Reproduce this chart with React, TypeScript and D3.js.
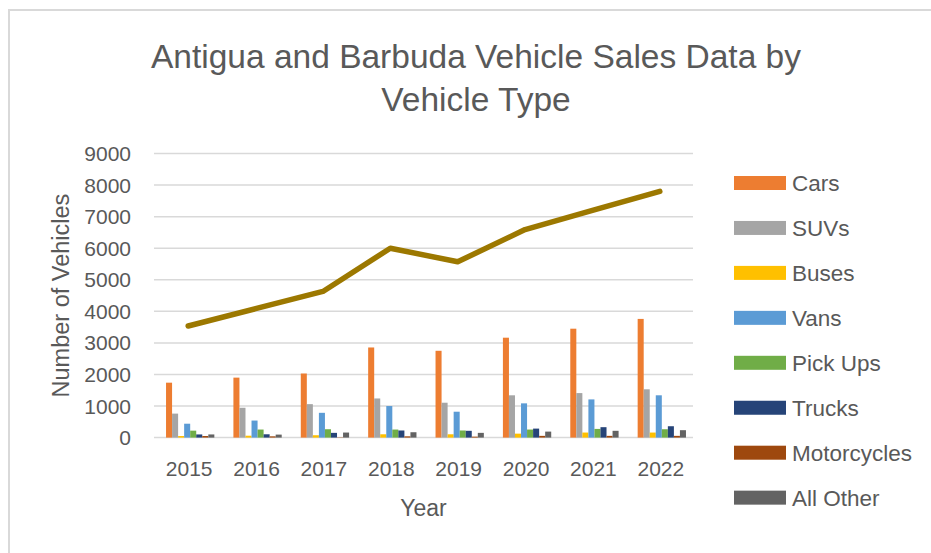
import React from "react";
import * as d3 from "d3";

const years = ["2015", "2016", "2017", "2018", "2019", "2020", "2021", "2022"];
const seriesNames = ["Cars", "SUVs", "Buses", "Vans", "Pick Ups", "Trucks", "Motorcycles", "All Other"];
const cars = [1740, 1900, 2030, 2855, 2750, 3165, 3450, 3760];
const suvs = [760, 945, 1060, 1240, 1105, 1340, 1410, 1530];
const buses = [50, 60, 75, 105, 105, 125, 160, 160];
const vans = [440, 540, 785, 1000, 820, 1085, 1210, 1340];
const pickUps = [220, 255, 265, 255, 225, 255, 275, 265];
const trucks = [100, 105, 150, 225, 215, 285, 330, 360];
const motorcycles = [50, 40, 10, 40, 30, 55, 55, 55];
const allOther = [100, 95, 160, 170, 150, 190, 215, 235];
const totals = [3535, 4085, 4630, 6000, 5570, 6590, 7195, 7800];
const yTicks = [0, 1000, 2000, 3000, 4000, 5000, 6000, 7000, 8000, 9000];
const colors = ["#ED7D31", "#A5A5A5", "#FFC000", "#5B9BD5", "#70AD47", "#264478", "#9E480E", "#636363"];
const seriesValues = [cars, suvs, buses, vans, pickUps, trucks, motorcycles, allOther];

const W = 931;
const H = 553;
const font = "'Liberation Sans', Arial, sans-serif";
const textColor = "#595959";

export default function App() {
  const plotL = 154, plotR = 693, plotT = 153.5, plotB = 437.6;
  const x0 = d3.scaleBand<string>().domain(years).range([plotL + 2.5, plotR + 2.5]).paddingInner(0.283).paddingOuter(0.1415);
  const x1 = d3.scaleBand<string>().domain(seriesNames).range([0, x0.bandwidth()]).padding(0);
  const y = d3.scaleLinear().domain([0, 9000]).range([plotB, plotT]);
  const line = d3
    .line<number>()
    .x((_, i) => (x0(years[i]) as number) + x0.bandwidth() / 2 - 2)
    .y((d) => y(d));

  return (
    <svg
      width={W}
      height={H}
      style={{ position: "fixed", left: 0, top: 0, background: "#fff" }}
      fontFamily={font}
    >
      <rect x={9} y={10} width={W + 20} height={H + 20} fill="#fff" stroke="#d9d9d9" strokeWidth={2} />
      <text x={476} y={68} textAnchor="middle" fontSize={33.5} fill={textColor}>
        Antigua and Barbuda Vehicle Sales Data by
      </text>
      <text x={476} y={111} textAnchor="middle" fontSize={33.5} fill={textColor}>
        Vehicle Type
      </text>
      {yTicks.map((t) => (
        <g key={t}>
          <line x1={plotL} x2={plotR} y1={y(t)} y2={y(t)} stroke="#d9d9d9" strokeWidth={1.5} />
          <text x={131} y={y(t) + 7.5} textAnchor="end" fontSize={21} fill={textColor}>
            {t}
          </text>
        </g>
      ))}
      {years.map((yr, i) => (
        <g key={yr}>
          {seriesNames.map((s, j) => {
            const v = seriesValues[j][i];
            return (
              <rect
                key={s}
                x={(x0(yr) as number) + (x1(s) as number)}
                y={y(v)}
                width={x1.bandwidth()}
                height={plotB - y(v)}
                fill={colors[j]}
              />
            );
          })}
          <text
            x={(x0(yr) as number) + x0.bandwidth() / 2 - 1}
            y={476}
            textAnchor="middle"
            fontSize={21}
            fill={textColor}
          >
            {yr}
          </text>
        </g>
      ))}
      <path
        d={line(totals) || ""}
        fill="none"
        stroke="#9C7800"
        strokeWidth={5.5}
        strokeLinecap="round"
        strokeLinejoin="round"
      />
      <text x={(plotL + plotR) / 2} y={516} textAnchor="middle" fontSize={23} fill={textColor}>
        Year
      </text>
      <text
        transform={`translate(69, ${(plotT + plotB) / 2}) rotate(-90)`}
        textAnchor="middle"
        fontSize={23.5}
        fill={textColor}
      >
        Number of Vehicles
      </text>
      {seriesNames.map((s, j) => (
        <g key={s} transform={`translate(734, ${183 + j * 44.95})`}>
          <rect x={0} y={-7} width={52} height={14} fill={colors[j]} />
          <text x={58} y={8} fontSize={22.5} fill={textColor}>
            {s}
          </text>
        </g>
      ))}
    </svg>
  );
}
